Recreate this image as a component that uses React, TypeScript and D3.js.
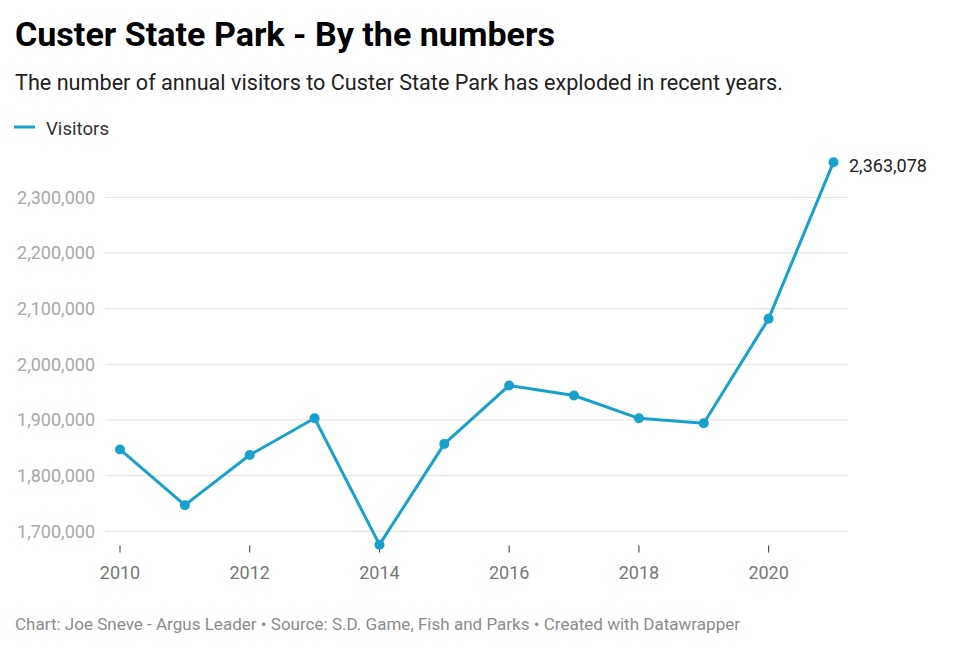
import React from "react";
import * as d3 from "d3";

const years: number[] = [2010, 2011, 2012, 2013, 2014, 2015, 2016, 2017, 2018, 2019, 2020, 2021];
const visitors: number[] = [1847000, 1747000, 1837000, 1903000, 1676000, 1857000, 1962000, 1944000, 1903000, 1894000, 2082000, 2363078];
const yTicks: number[] = [1700000, 1800000, 1900000, 2000000, 2100000, 2200000, 2300000];
const xTicks: number[] = [2010, 2012, 2014, 2016, 2018, 2020];

const W = 960;
const H = 650;
const BLUE = "#18a1cd";
const FONT = "Roboto, 'Noto Sans', sans-serif";

export default function App() {
  const x = d3.scaleLinear().domain([2010, 2021]).range([120, 833.5]);
  const y = d3.scaleLinear().domain([1700000, 2300000]).range([531.3, 197.3]);
  const fmt = d3.format(",");
  const line = d3
    .line<number>()
    .x((_, i) => x(years[i]))
    .y((d) => y(d));
  const lastI = visitors.length - 1;

  return (
    <svg
      width={W}
      height={H}
      style={{ position: "absolute", left: 0, top: 0, background: "#fff" }}
      fontFamily={FONT}
    >
      <rect width={W} height={H} fill="#fff" />
      <text x={15} y={45.5} fontSize={33} fontWeight={700} fill="#000" textLength={540} lengthAdjust="spacingAndGlyphs">
        Custer State Park - By the numbers
      </text>
      <text x={15} y={90} fontSize={21.5} fill="#222" textLength={768} lengthAdjust="spacingAndGlyphs">
        The number of annual visitors to Custer State Park has exploded in recent years.
      </text>
      <line x1={14} x2={35} y1={127} y2={127} stroke={BLUE} strokeWidth={3} />
      <text x={46} y={134.5} fontSize={17.5} fill="#333" textLength={63} lengthAdjust="spacingAndGlyphs">
        Visitors
      </text>

      {yTicks.map((t) => (
        <g key={t}>
          <line x1={105} x2={848} y1={y(t)} y2={y(t)} stroke="#e6e6e6" strokeWidth={1.3} />
          <text x={95} y={y(t) + 6.3} fontSize={18} fill="#a8a8a8" textAnchor="end">
            {fmt(t)}
          </text>
        </g>
      ))}

      {xTicks.map((t) => (
        <g key={t}>
          <line x1={x(t)} x2={x(t)} y1={545.5} y2={552.5} stroke="#333" strokeWidth={1} />
          <text x={x(t)} y={579} fontSize={18} fill="#777" textAnchor="middle">
            {t}
          </text>
        </g>
      ))}

      <path d={line(visitors) || ""} fill="none" stroke={BLUE} strokeWidth={3} strokeLinejoin="round" />
      {visitors.map((v, i) => (
        <circle key={i} cx={x(years[i])} cy={y(v)} r={5} fill={BLUE} />
      ))}
      <text x={849} y={172} fontSize={18} fill="#222">
        {fmt(visitors[lastI])}
      </text>

      <text x={15} y={630} fontSize={17} fill="#8c8c8c" textLength={725} lengthAdjust="spacingAndGlyphs">
        Chart: Joe Sneve - Argus Leader • Source: S.D. Game, Fish and Parks • Created with Datawrapper
      </text>
    </svg>
  );
}
